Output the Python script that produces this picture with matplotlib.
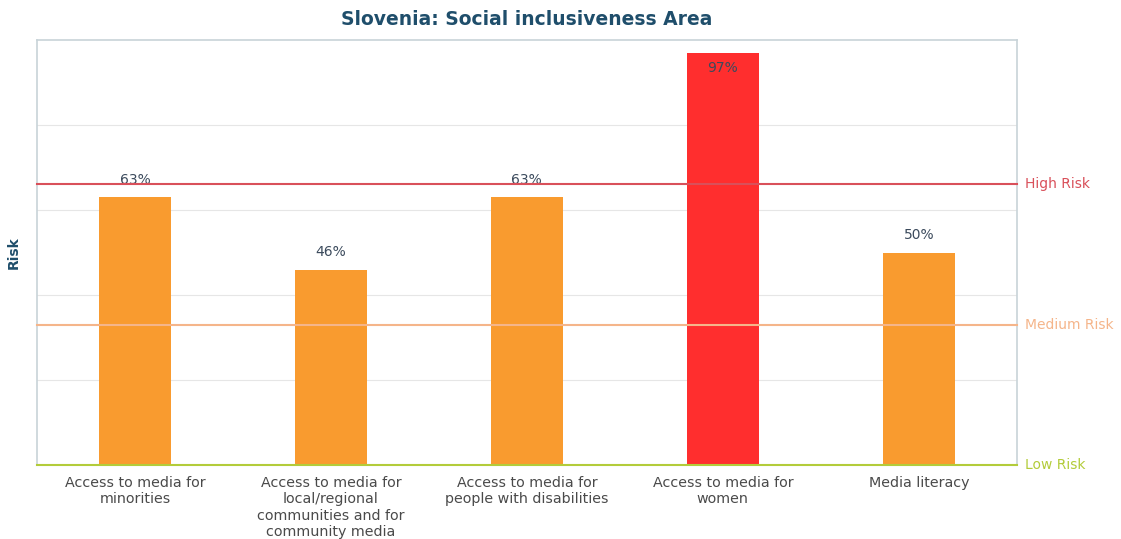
import matplotlib
matplotlib.use('Agg')
import matplotlib.pyplot as plt

categories = ['Access to media for\nminorities',
              'Access to media for\nlocal/regional\ncommunities and for\ncommunity media',
              'Access to media for\npeople with disabilities',
              'Access to media for\nwomen',
              'Media literacy']
values = [63, 46, 63, 97, 50]
bar_colors = ['#F99B2F', '#F99B2F', '#F99B2F', '#FF2E2E', '#F99B2F']
risk_levels = [66, 33, 0]
risk_names = ['High Risk', 'Medium Risk', 'Low Risk']
risk_colors = ['#D9505A', '#F5B58A', '#B3CC3A']

fig = plt.figure(figsize=(11.21, 5.39), dpi=100)
ax = fig.add_axes([0.033, 0.137, 0.874, 0.789])

x = range(len(categories))
ax.bar(x, values, width=0.37, color=bar_colors, zorder=2)

for xi, v in zip(x, values):
    if v > 90:
        ax.text(xi, v - 2, f'{v}%', ha='center', va='top', fontsize=10, color='#3B4A5C', zorder=3)
    else:
        ax.text(xi, v + 2.5, f'{v}%', ha='center', va='bottom', fontsize=10, color='#3B4A5C', zorder=3)

for lvl, name, col in zip(risk_levels, risk_names, risk_colors):
    ax.axhline(lvl, color=col, linewidth=1.5, zorder=3, clip_on=False)
    ax.text(1.008, lvl, name, transform=ax.get_yaxis_transform(), ha='left', va='center',
            fontsize=10, color=col)

ax.set_xlim(-0.5, 4.5)
ax.set_ylim(0, 100)
ax.set_yticks([20, 40, 60, 80])
ax.set_yticklabels([])
ax.tick_params(axis='y', length=0)
ax.tick_params(axis='x', length=0, pad=8, labelsize=10.3, labelcolor='#4A4A4A')
ax.set_xticks(list(x))
ax.set_xticklabels(categories, ha='center')
ax.grid(axis='y', color='#E6E6E6', linewidth=0.8, zorder=0)

for side in ['top', 'left', 'right']:
    ax.spines[side].set_color('#C8D3D8')
    ax.spines[side].set_linewidth(1.2)
ax.spines['bottom'].set_visible(False)

ax.set_ylabel('Risk', fontsize=10, fontweight='bold', color='#1F4E6B', labelpad=8)
ax.set_title('Slovenia: Social inclusiveness Area', fontsize=13.5, fontweight='bold',
             color='#1F4E6B', pad=11)

fig.savefig('out.png', dpi=100)
